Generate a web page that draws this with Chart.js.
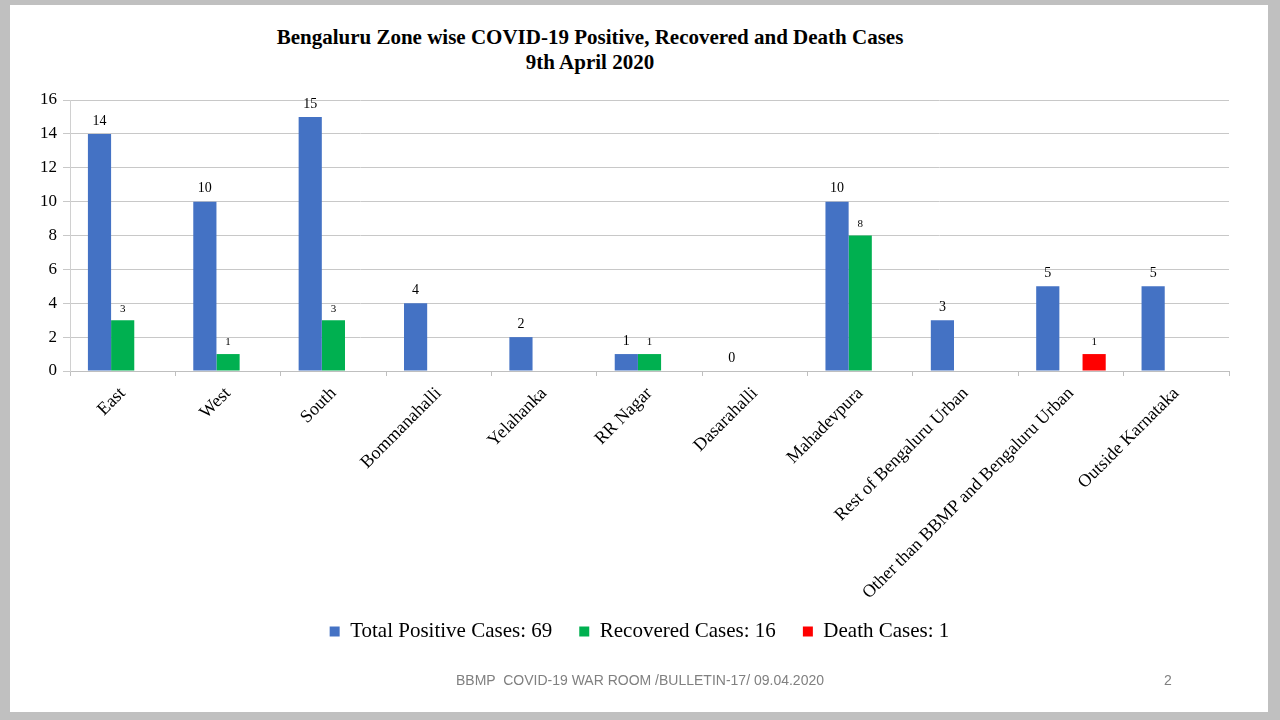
<!DOCTYPE html>
<html>
<head>
<meta charset="utf-8">
<script src="https://cdn.jsdelivr.net/npm/chart.js@4.4.1/dist/chart.umd.min.js"></script>
<style>
  html, body { margin: 0; padding: 0; background: #c0c0c0; }
  #page { position: relative; width: 1280px; height: 720px; overflow: hidden; }
  #slide { position: absolute; left: 10px; top: 5px; width: 1258px; height: 707px; background: #fff; }
  #title { position: absolute; left: 190px; width: 800px; top: 25px; text-align: center;
           font: bold 21px "Liberation Serif", serif; line-height: 25px; color: #000; }
  #footer { position: absolute; left: 340px; width: 600px; top: 672px; text-align: center;
            font: 14px "Liberation Sans", sans-serif; color: #808080; white-space: pre; }
  #pageno { position: absolute; left: 1164px; top: 672px; font: 14px "Liberation Sans", sans-serif; color: #808080; }
  #chartBox { position: absolute; left: 0; top: 0; width: 1280px; height: 720px; }
</style>
</head>
<body>
<div id="page">
  <div id="slide"></div>
  <div id="title">Bengaluru Zone wise COVID-19 Positive, Recovered and Death Cases<br>9th April 2020</div>
  <div id="chartBox"><canvas id="barChart"></canvas></div>
  <div id="footer">BBMP  COVID-19 WAR ROOM /BULLETIN-17/ 09.04.2020</div>
  <div id="pageno">2</div>
</div>
<script>
var zones = ['East', 'West', 'South', 'Bommanahalli', 'Yelahanka', 'RR Nagar', 'Dasarahalli',
             'Mahadevpura', 'Rest of Bengaluru Urban', 'Other than BBMP and Bengaluru Urban', 'Outside Karnataka']
var positiveCases  = [14, 10, 15, 4, 2, 1, 0, 10, 3, 5, 5]
var recoveredCases = [3, 1, 3, null, null, 1, null, 8, null, null, null]
var deathCases     = [null, null, null, null, null, null, null, null, null, 1, null]
var yTicks = [0, 2, 4, 6, 8, 10, 12, 14, 16]

// value labels drawn above each bar
var barLabels = {
  id: 'barLabels',
  afterDatasetsDraw: function (chart) {
    var ctx = chart.ctx
    ctx.save()
    ctx.fillStyle = '#000'
    ctx.textAlign = 'center'
    ctx.textBaseline = 'bottom'
    chart.data.datasets.forEach(function (ds, i) {
      var meta = chart.getDatasetMeta(i)
      ctx.font = (i === 0 ? '14px' : '11px') + ' "Liberation Serif", serif'
      meta.data.forEach(function (bar, j) {
        var v = ds.data[j]
        if (v === null || v === undefined) return
        ctx.fillText(String(v), bar.x, bar.y - 6)
      })
    })
    ctx.restore()
  }
}

// let tick labels spill out of their (fixed size) axis box
function noLabelClip(scale) {
  scale._computeLabelArea = function () { return undefined }
}

var serif = '"Liberation Serif", serif'

new Chart(document.getElementById('barChart').getContext('2d'), {
  type: 'bar',
  data: {
    labels: zones,
    datasets: [
      { label: 'Total Positive Cases: 69', data: positiveCases, backgroundColor: '#4472c4' },
      { label: 'Recovered Cases: 16', data: recoveredCases, backgroundColor: '#00b050' },
      { label: 'Death Cases: 1', data: deathCases, backgroundColor: '#ff0000' }
    ]
  },
  options: {
    responsive: true,
    maintainAspectRatio: false,
    animation: false,
    datasets: { bar: { categoryPercentage: 0.66, barPercentage: 1.0 } },
    layout: { padding: { left: 50, right: 51, top: 100, bottom: 68 } },
    plugins: {
      title: { display: false },
      tooltip: { enabled: false },
      legend: {
        position: 'bottom',
        labels: {
          boxWidth: 10, boxHeight: 10, padding: 27, color: '#000',
          font: { family: serif, size: 21 }
        }
      }
    },
    scales: {
      x: {
        afterFit: function (scale) { scale.height = 223; noLabelClip(scale) },
        grid: { offset: true, drawOnChartArea: false, drawTicks: true, tickLength: 5, color: '#bfbfbf' },
        border: { color: '#bfbfbf' },
        ticks: { minRotation: 45, maxRotation: 45, color: '#000', padding: 7, font: { family: serif, size: 18 } }
      },
      y: {
        min: 0, max: 16,
        afterFit: function (scale) { scale.width = 20; noLabelClip(scale) },
        afterBuildTicks: function (scale) { scale.ticks = yTicks.map(function (v) { return { value: v } }) },
        grid: { color: '#c8c8c8', tickLength: 7 },
        border: { color: '#d0d0d0' },
        ticks: { color: '#000', padding: 6, font: { family: serif, size: 17 } }
      }
    }
  },
  plugins: [barLabels]
})
</script>
</body>
</html>
